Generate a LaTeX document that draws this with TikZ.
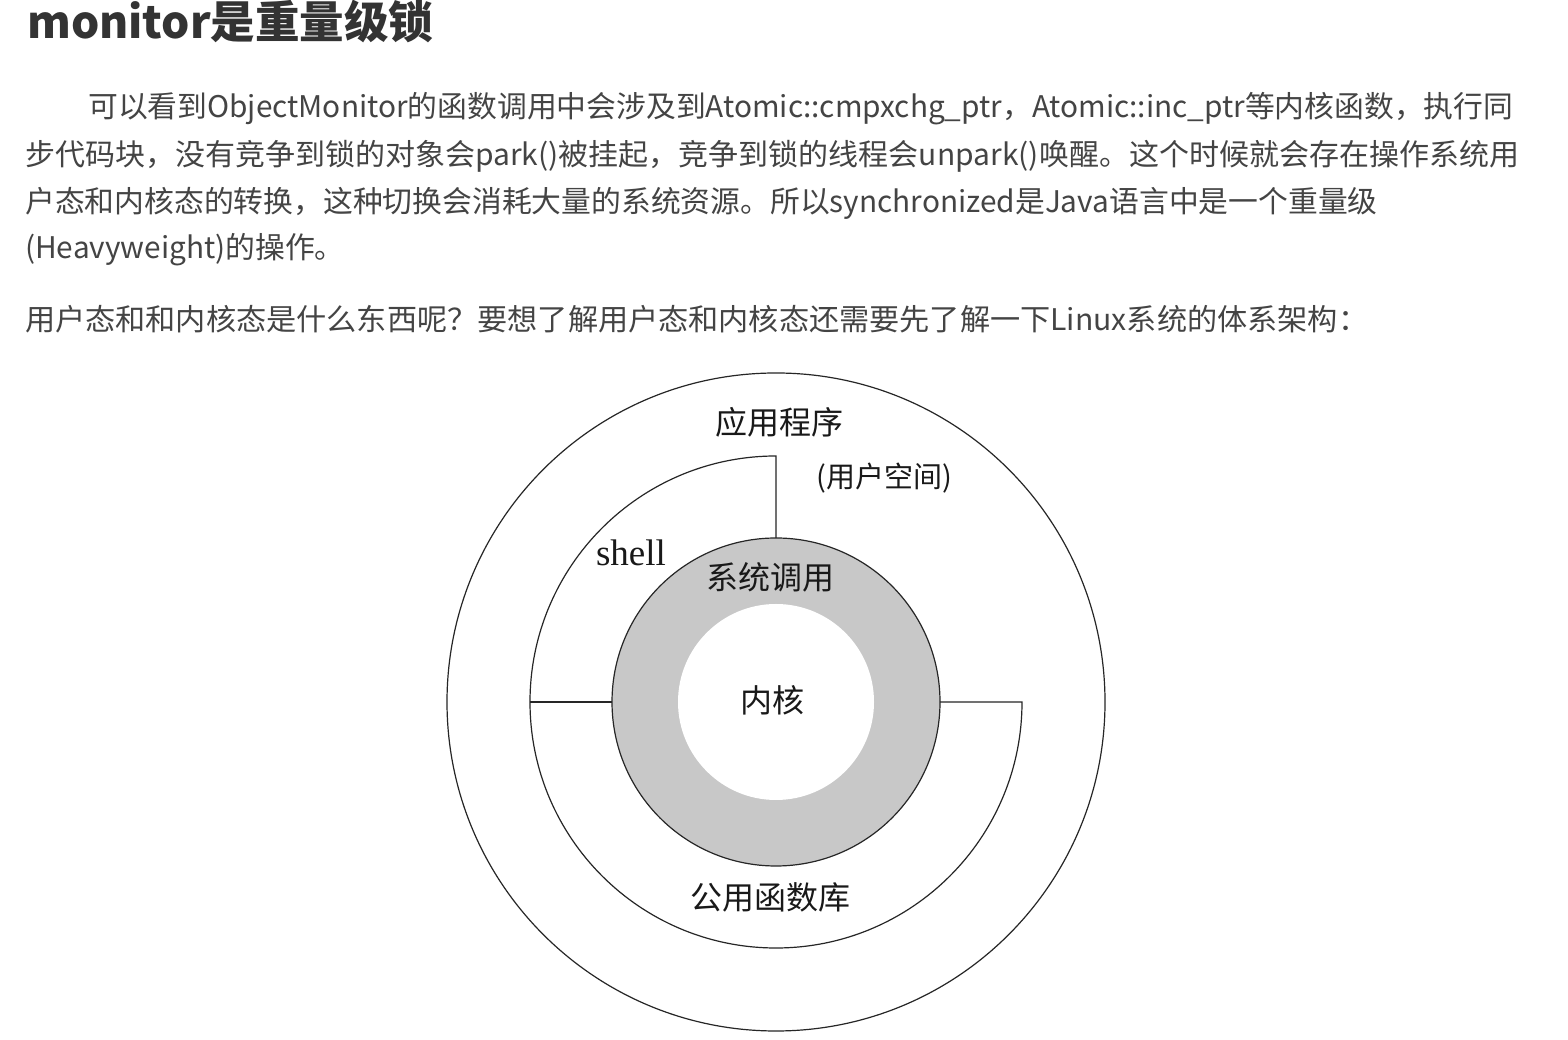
\documentclass[tikz,border=0pt]{standalone}
\usepackage{fontspec}
\newfontfamily\cjk{Noto Sans CJK SC}
\setmainfont{Liberation Serif}
\definecolor{txtgray}{HTML}{444444}
\definecolor{titlegray}{HTML}{333333}
\definecolor{ringgray}{HTML}{C8C8C8}
\tikzset{
  para/.style={inner sep=0pt, anchor=base west, text=txtgray, font=\cjk\fontsize{29.8}{34}\selectfont},
  titletext/.style={inner sep=0pt, anchor=base west, text=titlegray, font=\cjk\bfseries\fontsize{44.5}{50}\selectfont},
  lab/.style={inner sep=0pt, text=black!90, font=\cjk\fontsize{32}{38}\selectfont},
  shelllab/.style={inner sep=0pt, text=black!90, font=\rmfamily\fontsize{37}{42}\selectfont},
  userlab/.style={inner sep=0pt, text=black!90, font=\cjk\fontsize{29}{34}\selectfont},
  line/.style={draw=black!85, line width=1.2pt}
}
\begin{document}
\begin{tikzpicture}[x=1pt,y=1pt]
\useasboundingbox (0,0) rectangle (1568,1040);
\fill[white] (0,0) rectangle (1568,1040);
% text
\node[titletext] (title) at (27,1001) {monitor是重量级锁};
\node[para] (l1) at (88,922) {可以看到ObjectMonitor的函数调用中会涉及到Atomic::cmpxchg\_ptr，Atomic::inc\_ptr等内核函数，执行同};
\node[para] (l2) at (25,874) {\scalebox{1.007}[1]{步代码块，没有竞争到锁的对象会park()被挂起，竞争到锁的线程会unpark()唤醒。这个时候就会存在操作系统用}};
\node[para] (l3) at (25,827) {户态和内核态的转换，这种切换会消耗大量的系统资源。所以synchronized是Java语言中是一个重量级};
\node[para] (l4) at (25,781) {(Heavyweight)的操作。};
\node[para] (l5) at (25,709) {\scalebox{1.012}[1]{用户态和和内核态是什么东西呢？要想了解用户态和内核态还需要先了解一下Linux系统的体系架构：}};
% diagram
\coordinate (C) at (776,338);
\draw[line] (C) circle[radius=329];
\filldraw[line, fill=ringgray] (C) circle[radius=164];
\fill[white] (C) circle[radius=98];
\coordinate (topin) at (776,502);
\coordinate (topout) at (776,584);
\coordinate (rightin) at (940,338);
\coordinate (leftout) at (530,338);
\coordinate (leftin) at (612,338);
\draw[line] (topin) -- (topout) arc[start angle=90,end angle=360,radius=246] -- (rightin);
\draw[line] (leftout) -- (leftin);
\node[lab] (app) at (779,618) {应用程序};
\node[userlab] (user) at (884,562) {(用户空间)};
\node[shelllab] (shell) at (631,487) {shell};
\node[lab] (sys) at (770,463) {系统调用};
\node[lab] (kern) at (772,340) {内核};
\node[lab] (lib) at (770,143) {公用函数库};
\end{tikzpicture}
\end{document}
